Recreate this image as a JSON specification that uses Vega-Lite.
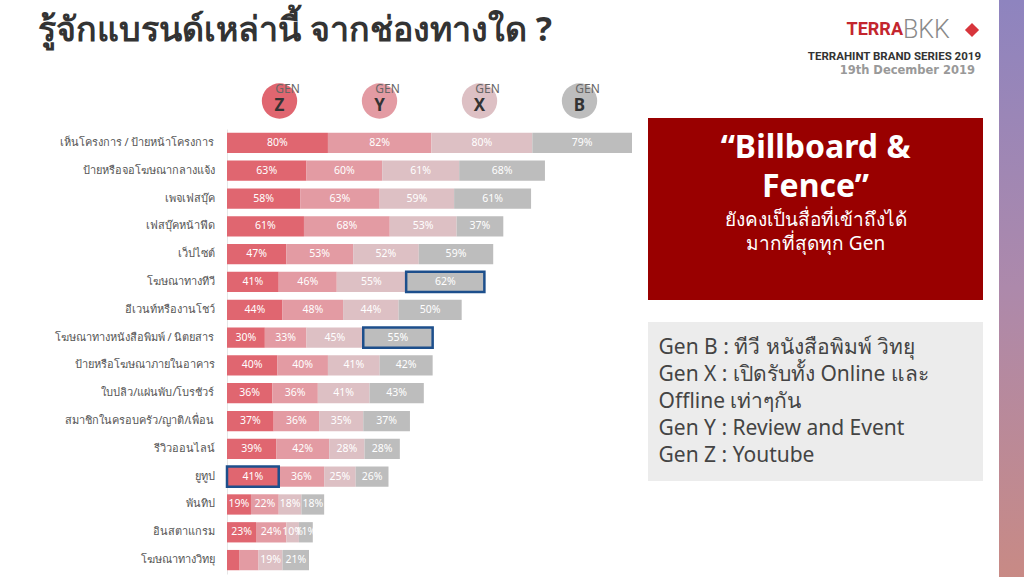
{
  "$schema": "https://vega.github.io/schema/vega-lite/v6.json",
  "background": "white",
  "padding": {"left": 37, "top": 0, "right": 0, "bottom": 0},
  "config": {"view": {"stroke": null}, "font": "Noto Sans"},
  "datasets": {
    "bars": [
      {"c": "เห็นโครงการ / ป้ายหน้าโครงการ", "g": "Z", "v": 80},
      {"c": "เห็นโครงการ / ป้ายหน้าโครงการ", "g": "Y", "v": 82},
      {"c": "เห็นโครงการ / ป้ายหน้าโครงการ", "g": "X", "v": 80},
      {"c": "เห็นโครงการ / ป้ายหน้าโครงการ", "g": "B", "v": 79},
      {"c": "ป้ายหรือจอโฆษณากลางแจ้ง", "g": "Z", "v": 63},
      {"c": "ป้ายหรือจอโฆษณากลางแจ้ง", "g": "Y", "v": 60},
      {"c": "ป้ายหรือจอโฆษณากลางแจ้ง", "g": "X", "v": 61},
      {"c": "ป้ายหรือจอโฆษณากลางแจ้ง", "g": "B", "v": 68},
      {"c": "เพจเฟสบุ๊ค", "g": "Z", "v": 58},
      {"c": "เพจเฟสบุ๊ค", "g": "Y", "v": 63},
      {"c": "เพจเฟสบุ๊ค", "g": "X", "v": 59},
      {"c": "เพจเฟสบุ๊ค", "g": "B", "v": 61},
      {"c": "เฟสบุ๊คหน้าฟีด", "g": "Z", "v": 61},
      {"c": "เฟสบุ๊คหน้าฟีด", "g": "Y", "v": 68},
      {"c": "เฟสบุ๊คหน้าฟีด", "g": "X", "v": 53},
      {"c": "เฟสบุ๊คหน้าฟีด", "g": "B", "v": 37},
      {"c": "เว็ปไซต์", "g": "Z", "v": 47},
      {"c": "เว็ปไซต์", "g": "Y", "v": 53},
      {"c": "เว็ปไซต์", "g": "X", "v": 52},
      {"c": "เว็ปไซต์", "g": "B", "v": 59},
      {"c": "โฆษณาทางทีวี", "g": "Z", "v": 41},
      {"c": "โฆษณาทางทีวี", "g": "Y", "v": 46},
      {"c": "โฆษณาทางทีวี", "g": "X", "v": 55},
      {"c": "โฆษณาทางทีวี", "g": "B", "v": 62},
      {"c": "อีเวนท์หรืองานโชว์", "g": "Z", "v": 44},
      {"c": "อีเวนท์หรืองานโชว์", "g": "Y", "v": 48},
      {"c": "อีเวนท์หรืองานโชว์", "g": "X", "v": 44},
      {"c": "อีเวนท์หรืองานโชว์", "g": "B", "v": 50},
      {"c": "โฆษณาทางหนังสือพิมพ์ / นิตยสาร", "g": "Z", "v": 30},
      {"c": "โฆษณาทางหนังสือพิมพ์ / นิตยสาร", "g": "Y", "v": 33},
      {"c": "โฆษณาทางหนังสือพิมพ์ / นิตยสาร", "g": "X", "v": 45},
      {"c": "โฆษณาทางหนังสือพิมพ์ / นิตยสาร", "g": "B", "v": 55},
      {"c": "ป้ายหรือโฆษณาภายในอาคาร", "g": "Z", "v": 40},
      {"c": "ป้ายหรือโฆษณาภายในอาคาร", "g": "Y", "v": 40},
      {"c": "ป้ายหรือโฆษณาภายในอาคาร", "g": "X", "v": 41},
      {"c": "ป้ายหรือโฆษณาภายในอาคาร", "g": "B", "v": 42},
      {"c": "ใบปลิว/แผ่นพับ/โบรชัวร์", "g": "Z", "v": 36},
      {"c": "ใบปลิว/แผ่นพับ/โบรชัวร์", "g": "Y", "v": 36},
      {"c": "ใบปลิว/แผ่นพับ/โบรชัวร์", "g": "X", "v": 41},
      {"c": "ใบปลิว/แผ่นพับ/โบรชัวร์", "g": "B", "v": 43},
      {"c": "สมาชิกในครอบครัว/ญาติ/เพื่อน", "g": "Z", "v": 37},
      {"c": "สมาชิกในครอบครัว/ญาติ/เพื่อน", "g": "Y", "v": 36},
      {"c": "สมาชิกในครอบครัว/ญาติ/เพื่อน", "g": "X", "v": 35},
      {"c": "สมาชิกในครอบครัว/ญาติ/เพื่อน", "g": "B", "v": 37},
      {"c": "รีวิวออนไลน์", "g": "Z", "v": 39},
      {"c": "รีวิวออนไลน์", "g": "Y", "v": 42},
      {"c": "รีวิวออนไลน์", "g": "X", "v": 28},
      {"c": "รีวิวออนไลน์", "g": "B", "v": 28},
      {"c": "ยูทูป", "g": "Z", "v": 41},
      {"c": "ยูทูป", "g": "Y", "v": 36},
      {"c": "ยูทูป", "g": "X", "v": 25},
      {"c": "ยูทูป", "g": "B", "v": 26},
      {"c": "พันทิป", "g": "Z", "v": 19},
      {"c": "พันทิป", "g": "Y", "v": 22},
      {"c": "พันทิป", "g": "X", "v": 18},
      {"c": "พันทิป", "g": "B", "v": 18},
      {"c": "อินสตาแกรม", "g": "Z", "v": 23},
      {"c": "อินสตาแกรม", "g": "Y", "v": 24},
      {"c": "อินสตาแกรม", "g": "X", "v": 10},
      {"c": "อินสตาแกรม", "g": "B", "v": 11},
      {"c": "โฆษณาทางวิทยุ", "g": "Z", "v": 10},
      {"c": "โฆษณาทางวิทยุ", "g": "Y", "v": 15},
      {"c": "โฆษณาทางวิทยุ", "g": "X", "v": 19},
      {"c": "โฆษณาทางวิทยุ", "g": "B", "v": 21}
    ]
  },
  "spacing": 16,
  "hconcat": [
    {
      "spacing": 5,
      "vconcat": [
        {
          "width": 405,
          "height": 73,
          "data": {"values": [{"t": "รู้จักแบรนด์เหล่านี้ จากช่องทางใด ?"}]},
          "mark": {"type": "text", "align": "left", "baseline": "alphabetic", "dx": -391.5, "dy": 4, "fontSize": 34, "fontWeight": "bold", "color": "#333333"},
          "encoding": {"text": {"field": "t"}}
        },
        {
          "width": 405,
          "height": 46,
          "data": {"values": [{"g": "Z"}, {"g": "Y"}, {"g": "X"}, {"g": "B"}]},
          "encoding": {
            "x": {
              "field": "g",
              "type": "nominal",
              "sort": null,
              "scale": {"type": "band", "domain": ["Z", "Y", "X", "B"], "paddingInner": 0, "paddingOuter": 0.025},
              "axis": null
            }
          },
          "layer": [
            {
              "mark": {"type": "point", "filled": true, "size": 1250, "opacity": 1},
              "encoding": {
                "color": {
                  "field": "g",
                  "type": "nominal",
                  "scale": {"domain": ["Z", "Y", "X", "B"], "range": ["#e06670", "#e39ba3", "#ddc0c4", "#bdbdbd"]},
                  "legend": null
                }
              }
            },
            {
              "mark": {"type": "text", "text": "GEN", "dx": 8, "dy": -12, "fontSize": 12, "color": "#666666"}
            },
            {
              "mark": {"type": "text", "dy": 5, "fontSize": 17, "fontWeight": "bold", "color": "#333333"},
              "encoding": {"text": {"field": "g"}}
            }
          ]
        },
        {
          "width": 405,
          "height": 445,
          "data": {"name": "bars"},
          "transform": [
            {"stack": "v", "groupby": ["c"], "sort": [{"field": "g", "order": "descending"}], "as": ["v0", "v1"]},
            {"calculate": "(datum.v0 + datum.v1) / 2", "as": "mid"},
            {"calculate": "datum.v + '%'", "as": "label"}
          ],
          "encoding": {
            "y": {
              "field": "c",
              "type": "nominal",
              "sort": null,
              "scale": {"paddingInner": 0.27, "paddingOuter": 0.135},
              "axis": {
                "title": null,
                "ticks": false,
                "labelPadding": 13,
                "labelFontSize": 11,
                "labelColor": "#555555",
                "labelLimit": 200,
                "domainColor": "#e6e6e6",
                "minExtent": 190,
                "maxExtent": 190
              }
            }
          },
          "layer": [
            {
              "mark": {"type": "bar"},
              "encoding": {
                "x": {"field": "v0", "type": "quantitative", "scale": {"domain": [0, 321], "nice": false}, "axis": null},
                "x2": {"field": "v1"},
                "color": {
                  "field": "g",
                  "type": "nominal",
                  "scale": {"domain": ["Z", "Y", "X", "B"], "range": ["#e06670", "#e39ba3", "#ddc0c4", "#bdbdbd"]},
                  "legend": null
                }
              }
            },
            {
              "transform": [{"filter": "!(datum.c === 'โฆษณาทางวิทยุ' && (datum.g === 'Z' || datum.g === 'Y'))"}],
              "mark": {"type": "text", "color": "white", "fontSize": 10.5, "align": "center", "baseline": "middle"},
              "encoding": {
                "x": {"field": "mid", "type": "quantitative"},
                "text": {"field": "label"}
              }
            },
            {
              "transform": [{"filter": "(datum.c === 'โฆษณาทางทีวี' && datum.g === 'B') || (datum.c === 'โฆษณาทางหนังสือพิมพ์ / นิตยสาร' && datum.g === 'B') || (datum.c === 'ยูทูป' && datum.g === 'Z')"}],
              "mark": {"type": "bar", "fillOpacity": 0, "stroke": "#1d4f8c", "strokeWidth": 2.5},
              "encoding": {
                "x": {"field": "v0", "type": "quantitative"},
                "x2": {"field": "v1"}
              }
            }
          ]
        }
      ]
    },
    {
      "spacing": 22,
      "vconcat": [
        {
          "width": 335,
          "height": 96,
          "data": {"values": [
            {"k": "a", "t": "TERRA"},
            {"k": "b", "t": "BKK"},
            {"k": "c", "t": "TERRAHINT BRAND SERIES 2019"},
            {"k": "d", "t": "19th December  2019"},
            {"k": "e", "t": ""}
          ]},
          "layer": [
            {
              "transform": [{"filter": "datum.k === 'a'"}],
              "mark": {"type": "text", "x": "width", "dx": -80, "dy": -18, "align": "right", "baseline": "middle", "font": "Roboto", "fontWeight": "bold", "fontSize": 18, "color": "#c3262e"},
              "encoding": {"text": {"field": "t"}}
            },
            {
              "transform": [{"filter": "datum.k === 'b'"}],
              "mark": {"type": "text", "x": "width", "dx": -80, "dy": -18, "align": "left", "baseline": "middle", "font": "Roboto", "fontWeight": 300, "fontSize": 25, "color": "#8a8a8a"},
              "encoding": {"text": {"field": "t"}}
            },
            {
              "transform": [{"filter": "datum.k === 'e'"}],
              "mark": {"type": "point", "shape": "diamond", "filled": true, "size": 200, "opacity": 1, "color": "#d7353c", "x": "width", "xOffset": -11, "yOffset": -18}
            },
            {
              "transform": [{"filter": "datum.k === 'c'"}],
              "mark": {"type": "text", "x": "width", "dx": -2, "dy": 9, "align": "right", "baseline": "middle", "font": "Roboto", "fontWeight": "bold", "fontSize": 11.5, "color": "#333333"},
              "encoding": {"text": {"field": "t"}}
            },
            {
              "transform": [{"filter": "datum.k === 'd'"}],
              "mark": {"type": "text", "x": "width", "dx": -8, "dy": 23, "align": "right", "baseline": "middle", "font": "DejaVu Sans", "fontWeight": "bold", "fontSize": 11.5, "color": "#999999"},
              "encoding": {"text": {"field": "t"}}
            }
          ]
        },
        {
          "width": 335,
          "height": 182,
          "view": {"fill": "#990000", "stroke": null},
          "data": {"values": [
            {"k": "head", "t": "“Billboard &\nFence”"},
            {"k": "sub", "t": "ยังคงเป็นสื่อที่เข้าถึงได้\nมากที่สุดทุก Gen"}
          ]},
          "layer": [
            {
              "transform": [{"filter": "datum.k === 'head'"}],
              "mark": {"type": "text", "lineBreak": "\n", "lineHeight": 39, "dy": -61, "align": "center", "baseline": "middle", "fontSize": 32, "fontWeight": "bold", "color": "white"},
              "encoding": {"text": {"field": "t"}}
            },
            {
              "transform": [{"filter": "datum.k === 'sub'"}],
              "mark": {"type": "text", "lineBreak": "\n", "lineHeight": 24, "dy": 11, "align": "center", "baseline": "middle", "fontSize": 19, "color": "white"},
              "encoding": {"text": {"field": "t"}}
            }
          ]
        },
        {
          "width": 335,
          "height": 159,
          "view": {"fill": "#ececec", "stroke": null},
          "data": {"values": [
            {"t": "Gen B : ทีวี หนังสือพิมพ์ วิทยุ\nGen X : เปิดรับทั้ง Online และ\nOffline เท่าๆกัน\nGen Y : Review and Event\nGen Z : Youtube"}
          ]},
          "mark": {"type": "text", "lineBreak": "\n", "lineHeight": 27, "dx": -157, "dy": -54, "align": "left", "baseline": "middle", "fontSize": 21, "color": "#444444"},
          "encoding": {"text": {"field": "t"}}
        }
      ]
    },
    {
      "width": 25,
      "height": 577,
      "data": {"values": [{}]},
      "mark": {
        "type": "rect",
        "fill": {
          "gradient": "linear",
          "x1": 0, "y1": 0, "x2": 0, "y2": 1,
          "stops": [
            {"offset": 0, "color": "#8e84bf"},
            {"offset": 0.5, "color": "#ad89ab"},
            {"offset": 1, "color": "#c88a85"}
          ]
        }
      },
      "encoding": {}
    }
  ]
}
